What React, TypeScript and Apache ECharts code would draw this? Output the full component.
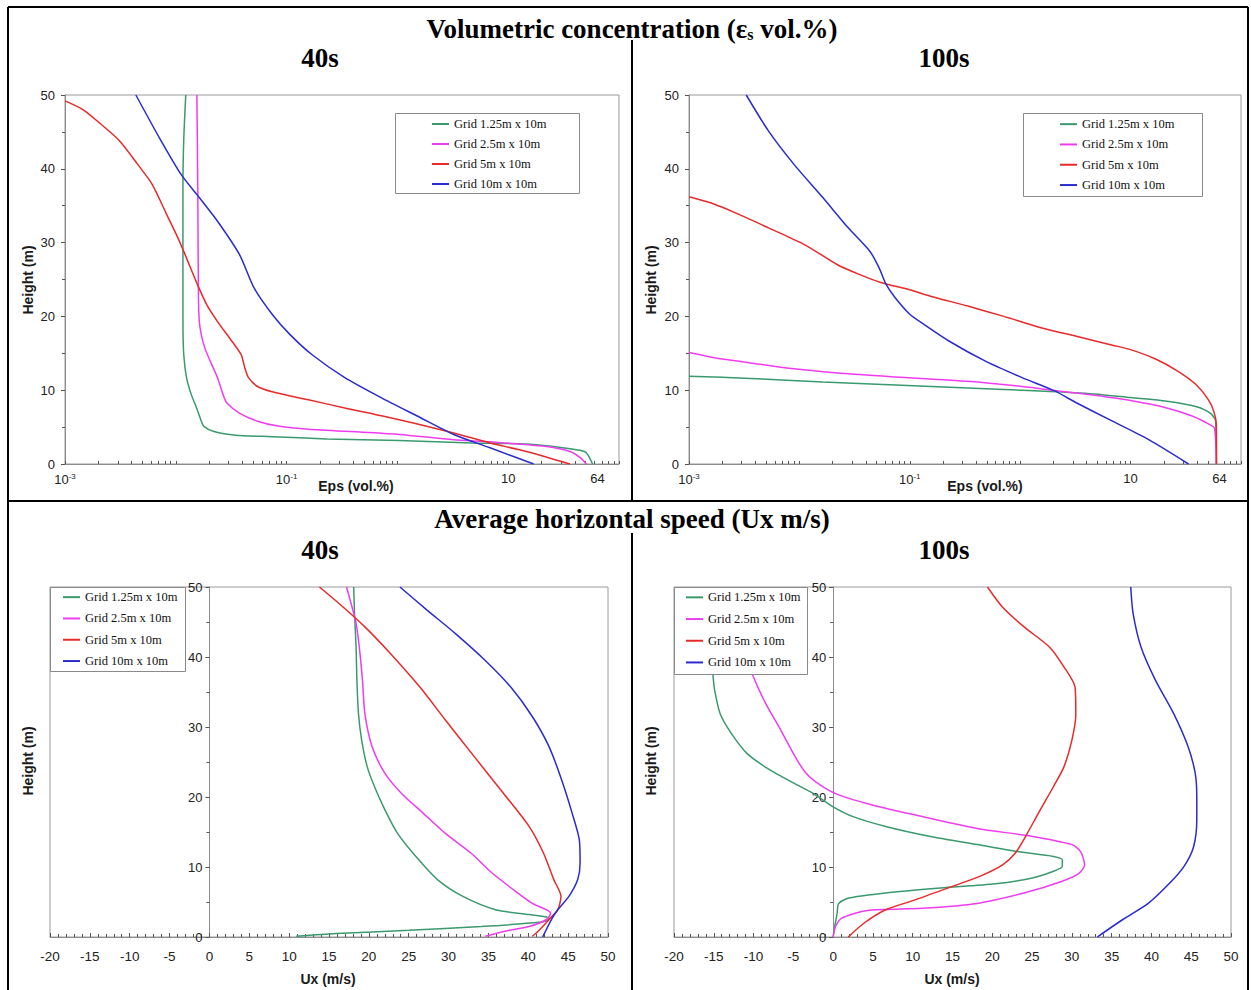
import React, { useEffect, useRef } from 'react';
import * as echarts from 'echarts';

const seriesNames = ['Grid 1.25m x 10m', 'Grid 2.5m x 10m', 'Grid 5m x 10m', 'Grid 10m x 10m'];
const seriesColors = ['#3a9a6e', '#f03cf0', '#e82a2a', '#2b2bcf'];

// Volumetric concentration, 40 s : [eps (vol.%), height (m)]
const conc40Green = [[0.0123,50],[0.0118,44],[0.0116,38],[0.0116,30],[0.0116,19.3],[0.0118,14.8],[0.0125,11.7],[0.0138,9.4],[0.0154,7.6],[0.017,5.8],[0.0179,5.1],[0.0221,4.4],[0.0348,3.9],[0.074,3.7],[0.23,3.4],[1.04,3.2],[4.7,2.85],[14.6,2.7],[31.0,2.2],[48.9,1.7],[52.6,1.2],[57.7,0]];
const conc40Magenta = [[0.0155,50],[0.0158,37],[0.016,23],[0.0163,19.3],[0.017,17.5],[0.0183,15.7],[0.0205,13.9],[0.0238,11.7],[0.0267,9.4],[0.0288,8.3],[0.0375,6.9],[0.0547,5.8],[0.086,5.1],[0.157,4.7],[0.489,4.3],[1.04,4.0],[3.22,3.3],[6.85,3.0],[21.3,2.4],[36.1,1.7],[45.3,0.8],[50.7,0]];
const conc40Red = [[0.001,49.2],[0.00146,48.0],[0.00213,46.0],[0.0031,43.8],[0.00453,40.6],[0.00612,37.9],[0.00828,33.8],[0.0104,30.7],[0.0121,28.4],[0.0157,24.3],[0.019,21.6],[0.0238,19.3],[0.0322,16.6],[0.0389,14.8],[0.042,13.0],[0.0453,11.7],[0.0547,10.5],[0.074,9.8],[0.157,8.7],[0.335,7.6],[1.04,6.0],[3.22,4.2],[6.85,2.85],[14.6,1.7],[36.1,0]];
const conc40Blue = [[0.00436,50],[0.00711,44.2],[0.0112,39.2],[0.0163,36.1],[0.0238,32.9],[0.0375,28.4],[0.0507,23.9],[0.074,20.3],[0.108,17.5],[0.17,14.8],[0.335,11.7],[0.711,9.0],[1.51,6.5],[3.22,4.0],[6.85,2.2],[17.0,0]];

// Volumetric concentration, 100 s
const conc100Green = [[0.001,11.9],[0.0036,11.6],[0.0163,11.1],[0.074,10.7],[0.335,10.3],[1.51,9.9],[4.7,9.5],[10.0,9.0],[21.3,8.5],[38.9,7.8],[52.6,6.9],[58.9,5.8],[59.8,0]];
const conc100Magenta = [[0.001,15.1],[0.0017,14.4],[0.0036,13.7],[0.00767,13.0],[0.0238,12.3],[0.074,11.8],[0.335,11.2],[1.04,10.5],[2.21,9.9],[4.7,9.3],[10.0,8.6],[21.3,7.6],[36.1,6.5],[52.6,5.3],[57.7,4.8],[59.8,0]];
const conc100Red = [[0.001,36.2],[0.0017,35.2],[0.00267,34.0],[0.00526,32.0],[0.0112,29.7],[0.0221,27.0],[0.0348,25.7],[0.0547,24.6],[0.1,23.6],[0.157,22.7],[0.335,21.4],[0.711,20.0],[1.51,18.5],[3.22,17.3],[6.85,16.1],[10.0,15.5],[17.0,14.2],[26.7,12.6],[38.9,10.8],[50.7,8.7],[56.8,7.1],[59.8,5.3],[60.0,0]];
const conc100Blue = [[0.0033,50],[0.00526,45.1],[0.00893,40.6],[0.0163,36.1],[0.0277,32.0],[0.0436,28.8],[0.0526,26.6],[0.0612,24.3],[0.074,22.5],[0.1,20.3],[0.135,18.9],[0.23,16.6],[0.489,13.9],[1.04,11.7],[2.05,9.9],[3.22,8.3],[6.85,5.8],[14.6,3.3],[33.5,0]];

// Average horizontal speed, 40 s : [Ux (m/s), height (m)]
const ux40Green = [[18.1,50],[18.2,46.2],[18.4,41.4],[18.5,36.7],[18.7,31.9],[19.1,28.1],[19.8,24.3],[20.7,21.5],[22.0,18.2],[23.6,14.8],[25.9,11.5],[28.6,8.2],[31.8,5.8],[35.9,3.9],[40.1,3.2],[42.3,2.85],[42.6,2.5],[41.4,2.1],[34.1,1.5],[25.0,0.95],[15.9,0.5],[10.9,0.1]];
const ux40Magenta = [[17.2,50],[17.9,47.1],[18.4,44.8],[18.8,41.4],[19.2,36.7],[19.5,31.9],[20.4,27.2],[22.0,23.4],[24.1,20.5],[26.8,17.7],[29.6,14.8],[32.8,12.0],[35.5,9.1],[38.2,6.7],[40.5,4.8],[42.8,3.4],[42.3,2.5],[40.1,1.5],[36.9,0.8],[34.6,0.1]];
const ux40Red = [[13.8,50],[16.3,47.6],[19.5,44.3],[22.7,40.5],[26.4,35.7],[29.6,31.0],[33.2,25.8],[36.9,20.5],[40.1,15.8],[41.9,12.0],[43.2,8.2],[44.1,5.8],[43.7,3.9],[42.6,2.5],[41.4,1.0],[40.5,0.1]];
const ux40Blue = [[23.9,50],[27.3,46.7],[30.9,43.3],[34.6,39.5],[37.8,35.7],[40.5,31.5],[42.6,27.2],[44.2,22.4],[45.5,17.7],[46.4,13.9],[46.5,10.6],[46.2,8.2],[45.1,5.8],[43.7,3.9],[43.0,2.7],[41.8,0]];

// Average horizontal speed, 100 s
const ux100Green = [[-15.2,39],[-15.1,37.4],[-14.9,35.3],[-14.2,31.9],[-12.8,29.1],[-10.8,26.2],[-8.0,23.9],[-5.3,22.2],[-2.5,20.5],[0,18.6],[2.5,17.2],[6.6,15.8],[12.1,14.4],[18.1,13.2],[23.1,12.2],[27.7,11.5],[28.8,11.0],[28.8,10.1],[27.7,9.4],[24.9,8.4],[20.4,7.6],[13.5,7.0],[6.6,6.3],[2.1,5.6],[0.7,4.8],[0.5,3.4],[0.2,1.5],[0,0]];
const ux100Magenta = [[-10.8,40],[-10.1,37.4],[-8.5,33.4],[-6.6,29.6],[-4.8,25.8],[-3.4,23.4],[-1.6,21.7],[0.7,20.3],[4.8,18.9],[11.2,17.2],[18.1,15.5],[24.9,14.4],[30.0,13.2],[31.1,12.2],[31.6,10.3],[30.9,9.1],[28.6,7.9],[24.0,6.3],[18.1,4.8],[11.2,4.1],[4.3,3.8],[1.1,2.7],[0.3,1.5],[0,0]];
const ux100Red = [[19.4,50],[21.3,47.1],[24.0,44.3],[27.2,41.4],[29.0,38.6],[30.4,35.7],[30.5,31.9],[30.0,28.1],[29.0,24.3],[27.7,21.5],[25.8,17.7],[24.2,14.4],[22.9,12.0],[21.3,10.3],[18.5,8.7],[14.9,7.2],[10.3,5.3],[6.6,3.9],[3.9,2.0],[1.9,0]];
const ux100Blue = [[37.4,50],[37.7,46.2],[38.7,41.4],[40.5,36.7],[42.8,31.9],[44.6,27.2],[45.5,23.4],[45.7,20.1],[45.7,16.7],[45.3,12.9],[44.1,10.1],[42.3,7.7],[39.6,4.8],[36.4,2.5],[33.2,0]];

const epsLabelValues = [0.001, 0.1, 10, 64];
const epsTickDecades = [-3, -2, -1, 0, 1];
const uxRange = [-20, 50];
const heightRange = [0, 50];

const W = 1251;
const H = 990;
const SANS = 'Liberation Sans, Arial, sans-serif';
const SERIF = 'Liberation Serif, Times New Roman, serif';

function buildOption() {
  const gridBoxes = [
    { left: 65, top: 95, width: 554, height: 369 },
    { left: 689, top: 95, width: 552, height: 369 },
    { left: 50, top: 587, width: 558, height: 350 },
    { left: 674, top: 587, width: 557, height: 350 },
  ];
  const grids = gridBoxes.map((g) => ({ ...g, show: true, borderColor: '#9a9a9a', borderWidth: 1, backgroundColor: 'transparent', containLabel: false }));

  const logTicks: number[] = [];
  epsTickDecades.forEach((n) => {
    for (let k = 1; k <= 9; k++) logTicks.push(Math.log10(k * Math.pow(10, n)));
  });
  logTicks.push(2);

  const fmtEps = (v: number) => {
    if (Math.abs(v + 3) < 1e-6) return '{b|10}{s|-3}';
    if (Math.abs(v + 1) < 1e-6) return '{b|10}{s|-1}';
    return String(Math.round(Math.pow(10, v)));
  };

  const tickLabel = { color: '#222', fontFamily: SANS, fontSize: 13 };

  const xTop = (gi: number) => ({
    type: 'value', gridIndex: gi, min: -3, max: 2, interval: 1,
    axisLine: { show: true, onZero: false, lineStyle: { color: '#8c8c8c' } },
    axisTick: { show: true, inside: true, length: 3, customValues: logTicks, lineStyle: { color: '#555' } },
    axisLabel: {
      ...tickLabel, margin: 8, customValues: epsLabelValues.map((v) => Math.log10(v)), formatter: fmtEps,
      rich: {
        b: { ...tickLabel, verticalAlign: 'bottom', lineHeight: 14 },
        s: { color: '#222', fontFamily: SANS, fontSize: 8, verticalAlign: 'top', lineHeight: 10 },
      },
    },
    splitLine: { show: false },
  });
  const xBottom = (gi: number) => ({
    type: 'value', gridIndex: gi, min: uxRange[0], max: uxRange[1], interval: 5,
    axisLine: { show: true, onZero: false, lineStyle: { color: '#8c8c8c' } },
    axisTick: { show: true, inside: true, length: 4, lineStyle: { color: '#555' } },
    minorTick: { show: true, splitNumber: 5, length: 3, lineStyle: { color: '#555' } },
    axisLabel: { ...tickLabel, fontSize: 13.5, margin: 12 },
    splitLine: { show: false },
  });
  // bottom panels: the height axis sits on Ux = 0
  const zeroOffset = (gi: number) => -((0 - uxRange[0]) / (uxRange[1] - uxRange[0])) * gridBoxes[gi].width;
  const yAxis = (gi: number, atZero: boolean) => ({
    type: 'value', gridIndex: gi, min: heightRange[0], max: heightRange[1], interval: 10,
    offset: atZero ? zeroOffset(gi) : 0,
    axisLine: { show: true, onZero: false, lineStyle: { color: '#8c8c8c' } },
    axisTick: { show: true, length: 4, lineStyle: { color: '#555' } },
    minorTick: { show: true, splitNumber: 2, length: 3, lineStyle: { color: '#555' } },
    axisLabel: { ...tickLabel, margin: atZero ? 7 : 10 },
    splitLine: { show: false },
  });

  const panels = [
    { data: [conc40Green, conc40Magenta, conc40Red, conc40Blue], log: true },
    { data: [conc100Green, conc100Magenta, conc100Red, conc100Blue], log: true },
    { data: [ux40Green, ux40Magenta, ux40Red, ux40Blue], log: false },
    { data: [ux100Green, ux100Magenta, ux100Red, ux100Blue], log: false },
  ];
  const series: any[] = [];
  panels.forEach((p, gi) => {
    p.data.forEach((d, si) => {
      series.push({
        type: 'line', name: seriesNames[si], xAxisIndex: gi, yAxisIndex: gi,
        data: d.map(([x, y]) => [p.log ? Math.log10(x) : x, y]),
        symbol: 'none', showSymbol: false, smooth: 0.25,
        lineStyle: { color: seriesColors[si], width: 1.5 }, itemStyle: { color: seriesColors[si] },
        z: 2, silent: true,
      });
    });
  });

  const legendBoxes = [
    { x: 395, y: 113, w: 184, h: 80, ix: 432, top: 114, lh: 20 },
    { x: 1023, y: 113, w: 179, h: 83, ix: 1060, top: 114, lh: 20.3 },
    { x: 50, y: 587, w: 135, h: 84, ix: 63, top: 586.5, lh: 21.3 },
    { x: 674, y: 587, w: 133, h: 87, ix: 686, top: 586.5, lh: 21.7 },
  ];
  const legend = legendBoxes.map((b) => ({
    data: seriesNames, orient: 'vertical', left: b.ix, top: b.top, padding: 0, itemGap: 0,
    itemWidth: 17, itemHeight: 2, icon: 'rect', selectedMode: false, z: 6,
    textStyle: { fontFamily: SERIF, fontSize: 12.5, color: '#111', lineHeight: b.lh },
  }));

  const txt = (x: number, y: number, text: string, font: any, extra: any = {}) => ({
    type: 'text', x, y, z: 7, ...extra,
    style: { text, textAlign: 'center', textVerticalAlign: 'middle', fill: '#000', ...font },
  });
  const titleFont = { fontFamily: SERIF, fontSize: 27, fontWeight: 'bold' };
  const nameFont = { fontFamily: SANS, fontSize: 14, fontWeight: 'bold', fill: '#1a1a1a' };
  const ln = (x1: number, y1: number, x2: number, y2: number) => ({
    type: 'line', z: 7, shape: { x1, y1, x2, y2 }, style: { stroke: '#000', lineWidth: 2 },
  });

  const graphic: any[] = [
    ln(8, 7, 1248, 7), ln(8, 7, 8, 990), ln(1248, 7, 1248, 990), ln(8, 501, 1248, 501),
    ln(632, 40, 632, 501), ln(632, 533, 632, 990),
    {
      type: 'text', x: 632, y: 27, z: 7,
      style: {
        text: '{a|Volumetric concentration (ε}{b|s}{a| vol.%)}', textAlign: 'center', textVerticalAlign: 'middle',
        rich: {
          a: { ...titleFont, fill: '#000', verticalAlign: 'bottom', lineHeight: 30 },
          b: { fontFamily: SERIF, fontSize: 16, fontWeight: 'bold', fill: '#000', verticalAlign: 'bottom', lineHeight: 24 },
        },
      },
    },
    txt(320, 58, '40s', titleFont), txt(944, 58, '100s', titleFont),
    txt(632, 519, 'Average horizontal speed (Ux m/s)', titleFont),
    txt(320, 550, '40s', titleFont), txt(944, 550, '100s', titleFont),
    txt(28, 280, 'Height (m)', nameFont, { rotation: Math.PI / 2 }),
    txt(651, 280, 'Height (m)', nameFont, { rotation: Math.PI / 2 }),
    txt(28, 761, 'Height (m)', nameFont, { rotation: Math.PI / 2 }),
    txt(651, 761, 'Height (m)', nameFont, { rotation: Math.PI / 2 }),
    txt(356, 486, 'Eps (vol.%)', nameFont), txt(985, 486, 'Eps (vol.%)', nameFont),
    txt(328, 979, 'Ux (m/s)', nameFont), txt(952, 979, 'Ux (m/s)', nameFont),
    ...legendBoxes.map((b) => ({
      type: 'rect', z: 5, shape: { x: b.x + 0.5, y: b.y + 0.5, width: b.w, height: b.h },
      style: { fill: '#fff', stroke: '#8a8a8a', lineWidth: 1 },
    })),
  ];

  return {
    animation: false,
    backgroundColor: '#fff',
    grid: grids,
    xAxis: [xTop(0), xTop(1), xBottom(2), xBottom(3)],
    yAxis: [yAxis(0, false), yAxis(1, false), yAxis(2, true), yAxis(3, true)],
    legend,
    series,
    graphic,
  };
}

export default function App() {
  const ref = useRef<HTMLDivElement>(null);
  useEffect(() => {
    if (!ref.current) return;
    const chart = echarts.init(ref.current, null, { renderer: 'svg' });
    chart.setOption(buildOption() as any);
    return () => chart.dispose();
  }, []);
  return <div ref={ref} style={{ position: 'absolute', left: 0, top: 0, width: W, height: H, background: '#fff' }} />;
}
